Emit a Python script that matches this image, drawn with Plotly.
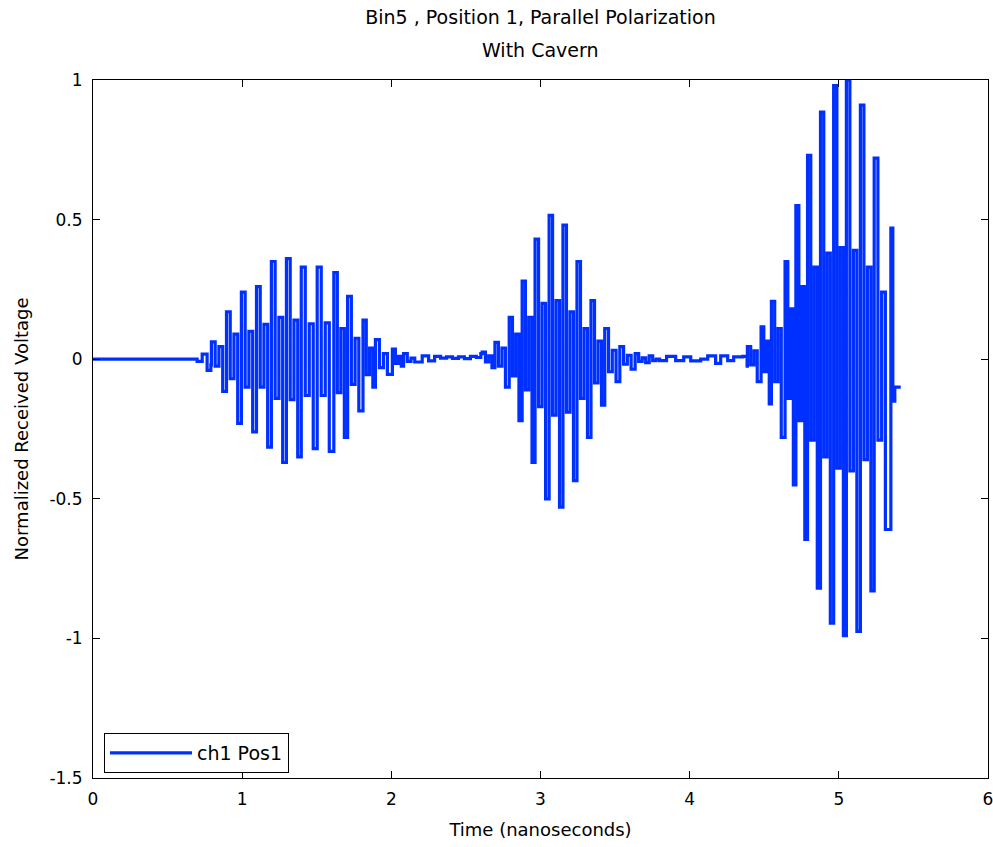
import plotly.graph_objects as go

# ---------------- data ----------------
# leading flat part and small precursor wiggle
pre_t = [0.0, 0.685, 0.698, 0.732, 0.765, 0.790]
pre_v = [0.0, 0.0, -0.008, 0.018, -0.040, -0.020]

# burst 1 : time of each positive peak, positive peak, inner low, inner high, negative peak
b1_top_t = [0.819, 0.920, 1.020, 1.121, 1.221, 1.322, 1.423, 1.530, 1.638, 1.732, 1.832, 1.920, 2.027, 2.107]
b1_top   = [0.062, 0.17, 0.24, 0.26, 0.35, 0.36, 0.33, 0.33, 0.31, 0.225, 0.14, 0.07, 0.036, 0.02]
b1_lo    = [-0.025, -0.07, -0.10, -0.10, -0.14, -0.145, -0.13, -0.13, -0.12, -0.09, -0.055, -0.03, -0.015, -0.008]
b1_hi    = [0.045, 0.09, 0.10, 0.125, 0.15, 0.14, 0.127, 0.13, 0.11, 0.075, 0.04, 0.02, 0.01, 0.004]
b1_bot   = [-0.115, -0.23, -0.26, -0.315, -0.37, -0.35, -0.32, -0.33, -0.28, -0.185, -0.10, -0.054, -0.025, -0.01]
b1_end = 2.207

noise1_t = [2.207, 2.25, 2.29, 2.33, 2.37, 2.41, 2.45, 2.49, 2.53, 2.57, 2.60]
noise1_v = [0.012, -0.006, 0.010, 0.004, 0.008, 0.003, 0.008, 0.002, 0.010, 0.006, 0.020]

# burst 2
b2_top_t = [2.631, 2.718, 2.812, 2.899, 2.987, 3.081, 3.174, 3.268, 3.362, 3.456, 3.557, 3.658, 3.752]
b2_top   = [0.025, 0.06, 0.15, 0.28, 0.43, 0.515, 0.48, 0.35, 0.21, 0.11, 0.045, 0.02, 0.012]
b2_lo    = [-0.01, -0.025, -0.06, -0.11, -0.17, -0.20, -0.19, -0.14, -0.085, -0.045, -0.018, -0.008, -0.005]
b2_hi    = [0.012, 0.04, 0.09, 0.15, 0.20, 0.21, 0.17, 0.11, 0.065, 0.032, 0.014, 0.005, 0.0]
b2_bot   = [-0.03, -0.10, -0.22, -0.37, -0.50, -0.53, -0.435, -0.28, -0.165, -0.08, -0.036, -0.012, -0.005]
b2_end = 3.845

noise2_t = [3.845, 3.906, 3.960, 4.007, 4.074, 4.121, 4.174, 4.208, 4.255, 4.295, 4.356, 4.385]
noise2_v = [0.010, -0.005, 0.008, -0.006, 0.0, 0.012, -0.015, 0.012, -0.005, 0.008, 0.010, -0.025]

# burst 3
b3_top_t = [4.409, 4.497, 4.570, 4.658, 4.732, 4.812, 4.899, 4.987, 5.074, 5.168, 5.262, 5.362]
b3_top   = [0.045, 0.116, 0.207, 0.35, 0.55, 0.73, 0.885, 0.98, 1.0, 0.91, 0.72, 0.47]
b3_lo    = [-0.02, -0.045, -0.08, -0.14, -0.22, -0.29, -0.35, -0.39, -0.40, -0.36, -0.29, -0.15]
b3_hi    = [0.03, 0.065, 0.11, 0.18, 0.26, 0.33, 0.38, 0.40, 0.39, 0.33, 0.24, -0.10]
b3_bot   = [-0.08, -0.16, -0.28, -0.45, -0.645, -0.82, -0.945, -0.99, -0.975, -0.83, -0.61, -0.10]
b3_end = 5.415

x_ticks = [0, 1, 2, 3, 4, 5, 6]
x_tick_text = ["0", "1", "2", "3", "4", "5", "6"]
y_ticks = [-1.5, -1, -0.5, 0, 0.5, 1]
y_tick_text = ["-1.5", "-1", "-0.5", "0", "0.5", "1"]

# fraction of each oscillation period (relative to the positive peak) at which
# the four levels top / low / high / bottom start
SUB = [-0.25, 0.0, 0.25, 0.5]


def burst(top_t, levels, end_t):
    ts, vs = [], []
    n = len(top_t)
    for i in range(n):
        t0 = top_t[i]
        t1 = top_t[i + 1] if i + 1 < n else end_t
        d = t1 - t0
        for f, lv in zip(SUB, levels):
            ts.append(t0 + f * d)
            vs.append(lv[i])
    return ts, vs


t_all, v_all = list(pre_t), list(pre_v)
for seg in (burst(b1_top_t, [b1_top, b1_lo, b1_hi, b1_bot], b1_end),
            (noise1_t, noise1_v),
            burst(b2_top_t, [b2_top, b2_lo, b2_hi, b2_bot], b2_end),
            (noise2_t, noise2_v),
            burst(b3_top_t, [b3_top, b3_lo, b3_hi, b3_bot], b3_end)):
    t_all += list(seg[0])
    v_all += list(seg[1])
t_all.append(b3_end)
v_all.append(v_all[-1])

FONT = "DejaVu Sans"
BLUE = "#0030FF"

fig = go.Figure()
fig.add_trace(go.Scatter(
    x=t_all, y=v_all, mode="lines", name="ch1 Pos1",
    line=dict(color=BLUE, width=3.2, shape="hv"),
))

axis_common = dict(
    showline=True, linecolor="black", linewidth=1, mirror="ticks",
    ticks="inside", ticklen=7, tickcolor="black", tickwidth=1,
    showgrid=False, zeroline=False, ticklabeloverflow="allow",
    automargin=False,
    tickfont=dict(family=FONT, size=17, color="black"),
)

fig.update_layout(
    width=993, height=847,
    margin=dict(l=93, r=5, t=80, b=69, autoexpand=False),
    paper_bgcolor="white", plot_bgcolor="white",
    font=dict(family=FONT, size=17, color="black"),
    title=dict(text="Bin5 , Position 1, Parallel Polarization",
               x=0.5, xref="paper", y=1 - 17 / 847, yref="container",
               xanchor="center", yanchor="middle",
               font=dict(family=FONT, size=19, color="black")),
    xaxis=dict(range=[0, 6], tickvals=x_ticks, ticktext=x_tick_text,
               ticklabelstandoff=6,
               title=dict(text="Time (nanoseconds)", standoff=14,
                          font=dict(family=FONT, size=18, color="black")),
               **axis_common),
    yaxis=dict(range=[-1.5, 1], tickvals=y_ticks, ticktext=y_tick_text,
               ticklabelstandoff=6,
               title=dict(text="Normalized Received Voltage", standoff=16,
                          font=dict(family=FONT, size=18, color="black")),
               **axis_common),
    legend=dict(x=0.0123, y=0.007, xanchor="left", yanchor="bottom",
                bgcolor="white", bordercolor="black", borderwidth=1,
                font=dict(family=FONT, size=19, color="black"),
                itemwidth=82, entrywidth=112),
    showlegend=True,
)
fig.add_annotation(text="With Cavern", x=0.5, xref="paper",
                   y=(778 - 50) / 698, yref="paper", showarrow=False,
                   xanchor="center", yanchor="middle",
                   font=dict(family=FONT, size=19, color="black"))

fig.write_html("out.html")
